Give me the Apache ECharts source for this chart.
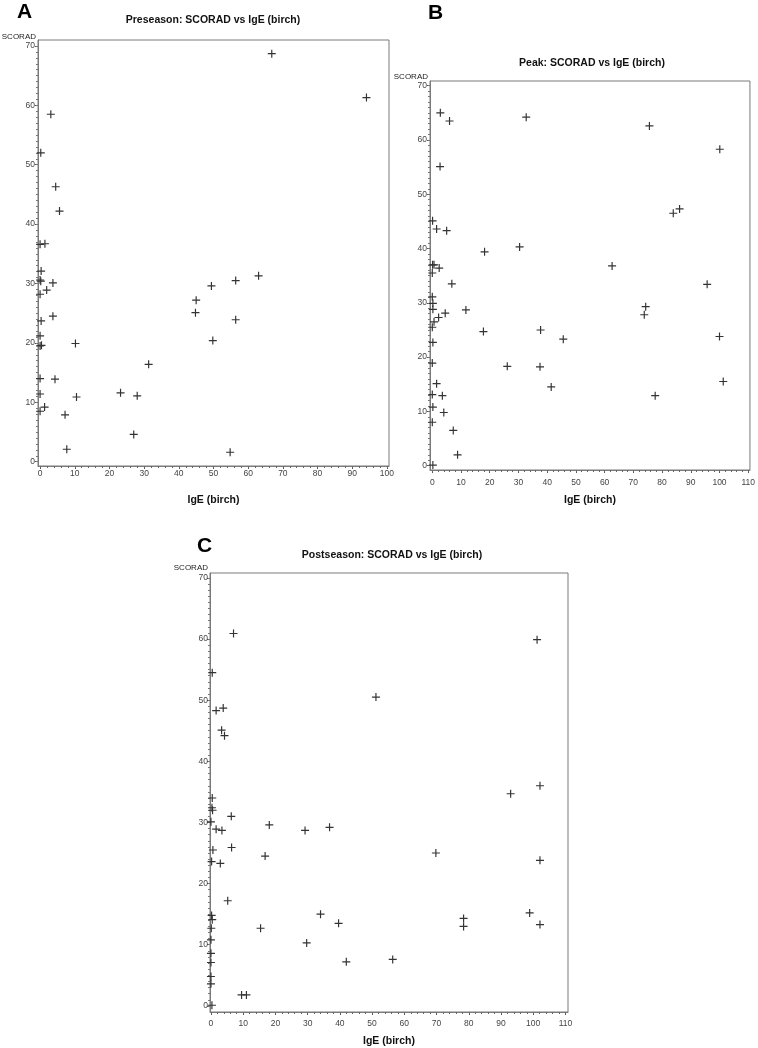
<!DOCTYPE html>
<html>
<head>
<meta charset="utf-8">
<script src="https://cdn.jsdelivr.net/npm/echarts@6/dist/echarts.min.js"></script>
<style>
html,body{margin:0;padding:0;background:#fff;}
#chart{width:758px;height:1048px;}
</style>
</head>
<body>
<div id="chart"></div>
<script>
// ---------- data ----------
const preIgE    = [66.8, 94.1, 3.1, 0.2, 4.5, 5.6, 0.0, 1.4, 0.3, 0.0, 0.2, 3.7, 1.9, 0.0, 3.7, 0.3, 0.0, 0.0, 0.4, 10.2, 0.0, 4.3, 0.0, 10.5, 1.3, 0.0, 7.2, 7.7, 23.2, 28.0, 27.0, 31.3, 44.8, 45.0, 49.4, 49.8, 56.4, 56.4, 63.0, 54.8];
const preScorad = [68.7, 61.3, 58.5, 52.0, 46.3, 42.2, 36.6, 36.7, 32.1, 30.6, 30.4, 30.1, 28.9, 28.2, 24.5, 23.7, 21.2, 19.5, 19.6, 19.9, 14.0, 13.9, 11.4, 10.9, 9.2, 8.5, 7.9, 2.1, 11.6, 11.1, 4.6, 16.4, 25.1, 27.2, 29.6, 20.4, 30.5, 23.9, 31.3, 1.6];

const peakIgE    = [2.8, 6.0, 32.7, 75.6, 100.1, 2.7, 83.9, 86.1, 0.1, 1.5, 5.0, 18.2, 30.4, 0.1, 0.6, 2.4, 0.0, 6.8, 62.6, 95.7, 0.0, 0.2, 0.2, 11.7, 4.5, 2.2, 0.6, 0.0, 74.3, 73.8, 17.8, 37.7, 45.6, 100.0, 0.2, 0.0, 26.1, 37.5, 41.4, 101.3, 1.5, 0.0, 3.5, 77.6, 0.2, 4.0, 0.0, 7.3, 8.8, 0.2];
const peakScorad = [65.0, 63.5, 64.2, 62.6, 58.3, 55.1, 46.5, 47.3, 45.1, 43.6, 43.3, 39.4, 40.3, 37.0, 37.0, 36.4, 35.5, 33.5, 36.8, 33.4, 31.1, 29.9, 28.8, 28.7, 28.1, 27.3, 26.5, 25.5, 29.3, 27.8, 24.7, 25.0, 23.3, 23.8, 22.7, 18.9, 18.3, 18.2, 14.5, 15.5, 15.1, 13.1, 12.9, 12.9, 10.8, 9.8, 8.0, 6.5, 2.0, 0.1];

const postIgE    = [7.0, 101.2, 0.4, 51.2, 1.6, 3.8, 3.3, 4.2, 102.1, 93.0, 0.4, 0.3, 0.5, 6.3, 0.0, 1.6, 3.4, 18.1, 29.2, 36.8, 0.6, 6.4, 0.2, 2.9, 16.8, 69.8, 102.1, 5.2, 0.2, 0.4, 0.1, 15.4, 34.0, 39.6, 78.4, 78.4, 98.9, 102.1, 0.0, 29.7, 0.0, 0.0, 42.0, 56.4, 0.0, 0.0, 9.5, 11.0, 0.3];
const postScorad = [60.9, 59.9, 54.5, 50.5, 48.3, 48.7, 45.1, 44.2, 36.0, 34.7, 34.0, 32.4, 32.0, 31.0, 30.1, 28.9, 28.7, 29.6, 28.7, 29.2, 25.5, 25.9, 23.6, 23.3, 24.5, 25.0, 23.8, 17.2, 14.8, 14.1, 12.7, 12.7, 15.0, 13.5, 14.3, 13.0, 15.2, 13.3, 10.8, 10.3, 8.6, 7.1, 7.2, 7.6, 4.8, 3.6, 1.8, 1.8, 0.1];

const xTicksA  = [0, 10, 20, 30, 40, 50, 60, 70, 80, 90, 100];
const xTicksBC = [0, 10, 20, 30, 40, 50, 60, 70, 80, 90, 100, 110];
const yTicks   = [0, 10, 20, 30, 40, 50, 60, 70];

const titles = ['Preseason: SCORAD vs IgE (birch)', 'Peak: SCORAD vs IgE (birch)', 'Postseason: SCORAD vs IgE (birch)'];
const letters = ['A', 'B', 'C'];
const xName = 'IgE (birch)';
const yName = 'SCORAD';

// ---------- layout / style ----------
const FONT = 'Liberation Sans, Arial, sans-serif';
const grids = [
  {left: 38,  top: 40,  width: 351, height: 426},
  {left: 430, top: 81,  width: 322, height: 389},
  {left: 210, top: 573, width: 358, height: 440}
];
const xRange = [[-0.6, 100.6], [-0.8, 110.6], [-0.3, 110.8]];
const yRange = [[-0.72, 71.0], [-0.8, 70.87], [-1.0, 70.8]];
const xNameGap = [29, 25, 24];
const xLabelMargin = [3, 8, 7];
const yLabelMargin = [3, 3, 2];
const yNameGap = [3, 4, 5];
const titlePos = [[213, 15], [592, 58], [392, 550]];
const letterPos = [[17, 2], [428, 3], [197, 536]];

function range(a, b, step) { const r = []; for (let v = a; v <= b + 1e-9; v += step) r.push(+v.toFixed(4)); return r; }

const xMajor = [xTicksA, xTicksBC, xTicksBC];
const plus = 'path://M6.4,0H8.6V6.4H15V8.6H8.6V15H6.4V8.6H0V6.4H6.4Z';

const option = {
  backgroundColor: '#fff',
  animation: false,
  title: [],
  grid: grids.map(g => Object.assign({show: true, borderColor: '#7a7a7a', borderWidth: 1, backgroundColor: 'transparent'}, g)),
  xAxis: [],
  yAxis: [],
  series: []
};

const dataSets = [[preIgE, preScorad], [peakIgE, peakScorad], [postIgE, postScorad]];

for (let i = 0; i < 3; i++) {
  option.title.push({
    text: titles[i], left: titlePos[i][0], top: titlePos[i][1], textAlign: 'center', padding: 0,
    textStyle: {fontFamily: FONT, fontSize: 10.5, fontWeight: 'bold', color: '#111'}
  });
  option.title.push({
    text: letters[i], left: letterPos[i][0], top: letterPos[i][1], padding: 0,
    textStyle: {fontFamily: FONT, fontSize: 21, fontWeight: 'bold', color: '#000'}
  });
  const xmaj = xMajor[i];
  option.xAxis.push({
    type: 'value', gridIndex: i, min: xRange[i][0], max: xRange[i][1],
    name: xName, nameLocation: 'middle', nameGap: xNameGap[i],
    nameTextStyle: {fontFamily: FONT, fontSize: 10.5, fontWeight: 'bold', color: '#111'},
    axisLine: {show: true, onZero: false, lineStyle: {color: '#7a7a7a', width: 1}},
    axisTick: {show: true, customValues: xmaj, length: 3, inside: false, lineStyle: {color: '#555'}},
    axisLabel: {show: true, customValues: xmaj, margin: xLabelMargin[i], fontFamily: FONT, fontSize: 8.5, color: '#444'},
    splitLine: {show: false}
  });
  option.xAxis.push({
    type: 'value', gridIndex: i, min: xRange[i][0], max: xRange[i][1], position: 'bottom',
    axisLine: {show: false, onZero: false},
    axisTick: {show: true, customValues: range(xmaj[0], xmaj[xmaj.length - 1], 2), length: 2, lineStyle: {color: '#666'}},
    axisLabel: {show: false},
    splitLine: {show: false}
  });
  option.yAxis.push({
    type: 'value', gridIndex: i, min: yRange[i][0], max: yRange[i][1],
    name: yName, nameLocation: 'end', nameGap: yNameGap[i],
    nameTextStyle: {fontFamily: FONT, fontSize: 8, color: '#222', align: 'right', verticalAlign: 'middle', padding: [0, 2, 0, 0]},
    axisLine: {show: true, onZero: false, lineStyle: {color: '#7a7a7a', width: 1}},
    axisTick: {show: true, customValues: yTicks, length: 3, lineStyle: {color: '#555'}},
    axisLabel: {show: true, customValues: yTicks, margin: yLabelMargin[i], fontFamily: FONT, fontSize: 8.5, color: '#444'},
    splitLine: {show: false}
  });
  option.yAxis.push({
    type: 'value', gridIndex: i, min: yRange[i][0], max: yRange[i][1], position: 'left',
    axisLine: {show: false, onZero: false},
    axisTick: {show: true, customValues: range(0, 70, 1), length: 2, lineStyle: {color: '#777'}},
    axisLabel: {show: false},
    splitLine: {show: false}
  });
  const [xs, ys] = dataSets[i];
  option.series.push({
    type: 'scatter', xAxisIndex: i * 2, yAxisIndex: i * 2,
    symbol: plus, symbolSize: 8,
    itemStyle: {color: '#333', opacity: 1},
    data: xs.map((x, k) => [x, ys[k]])
  });
}

const chart = echarts.init(document.getElementById('chart'), null, {renderer: 'canvas'});
chart.setOption(option);
</script>
</body>
</html>
